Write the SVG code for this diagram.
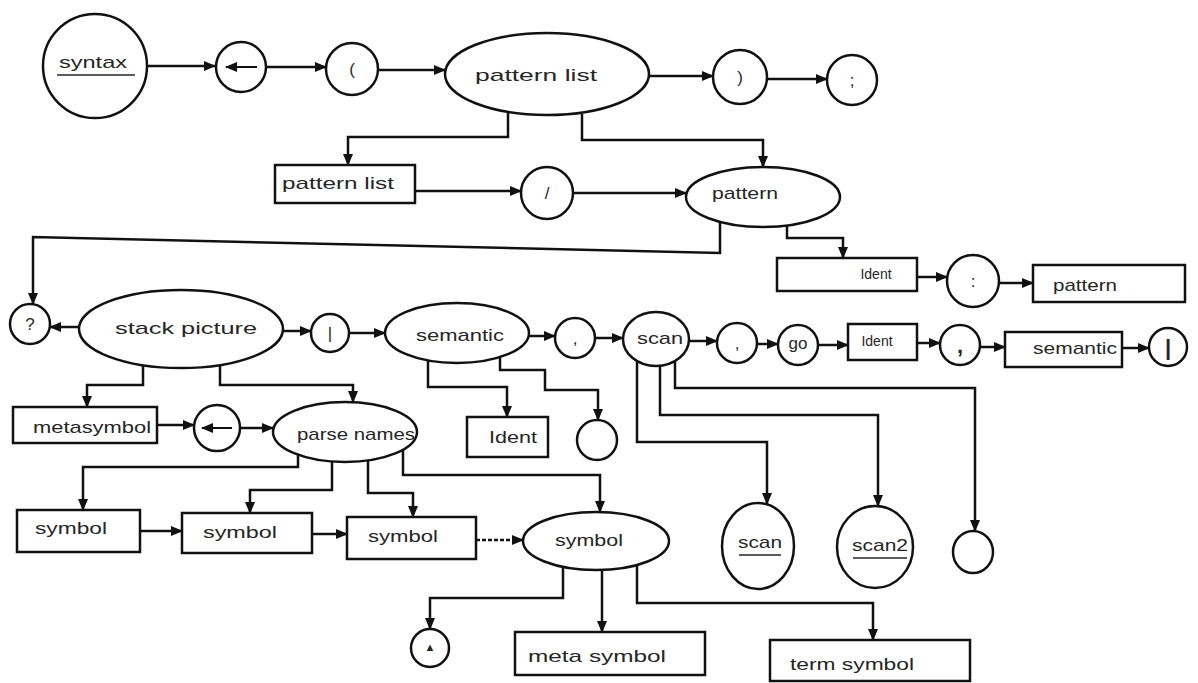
<svg xmlns="http://www.w3.org/2000/svg" width="1198" height="683" viewBox="0 0 1198 683">
<defs>
<style>
.n{fill:#fff;stroke:#111;stroke-width:2.5}
.t{font-family:"Liberation Sans",Arial,sans-serif;font-size:17px;fill:#262626;text-anchor:middle;dominant-baseline:central}
.s{font-size:14px}
.b{font-size:22px;font-weight:bold}
.c{fill:none;stroke:#111;stroke-width:2.5}
.d{stroke-dasharray:4 2}
.u{stroke:#262626;stroke-width:1.6}
</style>
<marker id="a" markerUnits="userSpaceOnUse" markerWidth="12" markerHeight="10" refX="11" refY="5" orient="auto">
<path d="M0,0 L12,5 L0,10 Z" fill="#111"/>
</marker>
</defs>
<rect width="1198" height="683" fill="#fff"/>

<g id="connectors">
<path class="c" marker-end="url(#a)" d="M147,66 H215"/>
<path class="c" marker-end="url(#a)" d="M266,67 H326"/>
<path class="c" marker-end="url(#a)" d="M378,70 H445"/>
<path class="c" marker-end="url(#a)" d="M649,76 H713"/>
<path class="c" marker-end="url(#a)" d="M767,79 H827"/>
<path class="c" marker-end="url(#a)" d="M508,113 V137 H348 V165"/>
<path class="c" marker-end="url(#a)" d="M582,114 V140 H763 V167"/>
<path class="c" marker-end="url(#a)" d="M415,191 H521"/>
<path class="c" marker-end="url(#a)" d="M573,193 H686"/>
<path class="c" marker-end="url(#a)" d="M720,222 V253 L33,237 V304"/>
<path class="c" marker-end="url(#a)" d="M787,225 V238 H843 V258"/>
<path class="c" marker-end="url(#a)" d="M917,277 H947"/>
<path class="c" marker-end="url(#a)" d="M999,283 H1033"/>
<path class="c" marker-end="url(#a)" d="M80,327 H50"/>
<path class="c" marker-end="url(#a)" d="M283,331 H311"/>
<path class="c" marker-end="url(#a)" d="M349,333 H385"/>
<path class="c" marker-end="url(#a)" d="M529,336 H555"/>
<path class="c" marker-end="url(#a)" d="M595,338 H623"/>
<path class="c" marker-end="url(#a)" d="M689,341 H717"/>
<path class="c" marker-end="url(#a)" d="M757,344 H778"/>
<path class="c" marker-end="url(#a)" d="M818,345 H848"/>
<path class="c" marker-end="url(#a)" d="M917,343 H940"/>
<path class="c" marker-end="url(#a)" d="M980,347 H1005"/>
<path class="c" marker-end="url(#a)" d="M1122,348 H1149"/>
<path class="c" marker-end="url(#a)" d="M143,366 V385 H87 V407"/>
<path class="c" marker-end="url(#a)" d="M220,366 V385 H353 V402"/>
<path class="c" marker-end="url(#a)" d="M157,425 H194"/>
<path class="c" marker-end="url(#a)" d="M240,428 H273"/>
<path class="c" marker-end="url(#a)" d="M428,360 V387 H507 V417"/>
<path class="c" marker-end="url(#a)" d="M500,357 V370 H545 V390 H598 V420"/>
<path class="c" marker-end="url(#a)" d="M637,361 V442 H767 V504"/>
<path class="c" marker-end="url(#a)" d="M660,366 V415 H878 V506"/>
<path class="c" marker-end="url(#a)" d="M675,361 V388 H975 V531"/>
<path class="c" marker-end="url(#a)" d="M298,455 V467 H83 V510"/>
<path class="c" marker-end="url(#a)" d="M332,462 V490 H250 V513"/>
<path class="c" marker-end="url(#a)" d="M368,460 V493 H413 V517"/>
<path class="c" marker-end="url(#a)" d="M403,450 V475 H600 V512"/>
<path class="c" marker-end="url(#a)" d="M140,531 H182"/>
<path class="c" marker-end="url(#a)" d="M312,534 H347"/>
<path class="c d" marker-end="url(#a)" d="M476,540 H523"/>
<path class="c" marker-end="url(#a)" d="M563,568 V598 H430 V629"/>
<path class="c" marker-end="url(#a)" d="M602,570 V632"/>
<path class="c" marker-end="url(#a)" d="M637,565 V603 H873 V640"/>
</g>

<g id="syntax"><circle class="n" cx="95" cy="66" r="52"/><text class="t" x="93" y="62" textLength="68" lengthAdjust="spacingAndGlyphs">syntax</text><line class="u" x1="57" y1="75" x2="135" y2="75"/></g>
<g id="assign1"><circle class="n" cx="241" cy="67" r="25"/><path class="c" marker-end="url(#a)" d="M257,67 H226" style="stroke-width:2"/></g>
<g id="lparen"><circle class="n" cx="352" cy="69" r="26"/><text class="t" x="352" y="69">(</text></g>
<g id="patternlist1"><ellipse class="n" cx="547" cy="74" rx="102" ry="41"/><text class="t" x="536" y="75" textLength="122" lengthAdjust="spacingAndGlyphs">pattern  list</text></g>
<g id="rparen"><circle class="n" cx="740" cy="77" r="27"/><text class="t" x="740" y="77">)</text></g>
<g id="semi"><circle class="n" cx="852" cy="80" r="25"/><text class="t" x="852" y="80">;</text></g>

<g id="patternlist2"><rect class="n" x="275" y="165" width="140" height="38"/><text class="t" x="338" y="183" textLength="112" lengthAdjust="spacingAndGlyphs">pattern  list</text></g>
<g id="slash"><circle class="n" cx="547" cy="193" r="26"/><text class="t" x="547" y="193">/</text></g>
<g id="pattern1"><ellipse class="n" cx="763" cy="197" rx="77" ry="30"/><text class="t" x="745" y="193" textLength="66" lengthAdjust="spacingAndGlyphs">pattern</text></g>
<g id="ident1"><rect class="n" x="777" y="258" width="140" height="33"/><text class="t s" x="876" y="274">Ident</text></g>
<g id="colon"><circle class="n" cx="973" cy="281" r="26"/><text class="t" x="973" y="281">:</text></g>
<g id="pattern2"><rect class="n" x="1033" y="265" width="152" height="37"/><text class="t" x="1085" y="285" textLength="64" lengthAdjust="spacingAndGlyphs">pattern</text></g>

<g id="query"><circle class="n" cx="30" cy="324" r="20"/><text class="t" x="30" y="324">?</text></g>
<g id="stackpicture"><ellipse class="n" cx="181" cy="329" rx="102" ry="39"/><text class="t" x="186" y="328" textLength="142" lengthAdjust="spacingAndGlyphs">stack  picture</text></g>
<g id="bar1"><circle class="n" cx="330" cy="333" r="19"/><text class="t" x="330" y="333">|</text></g>
<g id="semantic1"><ellipse class="n" cx="457" cy="333" rx="72" ry="30"/><text class="t" x="460" y="335" textLength="88" lengthAdjust="spacingAndGlyphs">semantic</text></g>
<g id="comma1"><circle class="n" cx="575" cy="338" r="20"/><text class="t" x="575" y="338">,</text></g>
<g id="scan1"><ellipse class="n" cx="656" cy="339" rx="33" ry="27"/><text class="t" x="660" y="338" textLength="46" lengthAdjust="spacingAndGlyphs">scan</text></g>
<g id="comma2"><circle class="n" cx="737" cy="343" r="20"/><text class="t" x="737" y="343">,</text></g>
<g id="go"><circle class="n" cx="798" cy="345" r="20"/><text class="t" x="798" y="343">go</text></g>
<g id="ident2"><rect class="n" x="848" y="324" width="69" height="36"/><text class="t s" x="877" y="341">Ident</text></g>
<g id="comma3"><circle class="n" cx="960" cy="345" r="20"/><text class="t b" x="960" y="345">,</text></g>
<g id="semantic2"><rect class="n" x="1005" y="332" width="117" height="35"/><text class="t" x="1075" y="348" textLength="84" lengthAdjust="spacingAndGlyphs">semantic</text></g>
<g id="bar2"><circle class="n" cx="1168" cy="347" r="19"/><text class="t b" x="1168" y="347">|</text></g>

<g id="metasymbol1"><rect class="n" x="13" y="407" width="144" height="36"/><text class="t" x="92" y="427" textLength="118" lengthAdjust="spacingAndGlyphs">metasymbol</text></g>
<g id="assign2"><circle class="n" cx="217" cy="428" r="23"/><path class="c" marker-end="url(#a)" d="M232,428 H202" style="stroke-width:2"/></g>
<g id="parsenames"><ellipse class="n" cx="345" cy="432" rx="72" ry="30"/><text class="t" x="356" y="434" textLength="118" lengthAdjust="spacingAndGlyphs">parse names</text></g>
<g id="ident3"><rect class="n" x="467" y="417" width="81" height="40"/><text class="t" x="513" y="437" textLength="48" lengthAdjust="spacingAndGlyphs">Ident</text></g>
<g id="empty1"><circle class="n" cx="597" cy="440" r="20"/></g>

<g id="symbol1"><rect class="n" x="17" y="510" width="123" height="42"/><text class="t" x="71" y="528" textLength="72" lengthAdjust="spacingAndGlyphs">symbol</text></g>
<g id="symbol2"><rect class="n" x="182" y="513" width="130" height="40"/><text class="t" x="240" y="532" textLength="74" lengthAdjust="spacingAndGlyphs">symbol</text></g>
<g id="symbol3"><rect class="n" x="347" y="517" width="129" height="42"/><text class="t" x="403" y="536" textLength="70" lengthAdjust="spacingAndGlyphs">symbol</text></g>
<g id="symbol4"><ellipse class="n" cx="596" cy="541" rx="73" ry="29"/><text class="t" x="589" y="540" textLength="68" lengthAdjust="spacingAndGlyphs">symbol</text></g>
<g id="scannode"><ellipse class="n" cx="758" cy="546" rx="36" ry="43"/><text class="t" x="760" y="542" textLength="44" lengthAdjust="spacingAndGlyphs">scan</text><line class="u" x1="739" y1="555" x2="781" y2="555"/></g>
<g id="scan2node"><ellipse class="n" cx="875" cy="547" rx="38" ry="41"/><text class="t" x="880" y="545" textLength="56" lengthAdjust="spacingAndGlyphs">scan2</text><line class="u" x1="853" y1="558" x2="907" y2="558"/></g>
<g id="empty2"><ellipse class="n" cx="973" cy="552" rx="20" ry="21"/></g>

<g id="delta"><circle class="n" cx="430" cy="648" r="19"/><text class="t" x="430" y="647" style="font-size:11px">▲</text></g>
<g id="metasymbol2"><rect class="n" x="515" y="632" width="190" height="43"/><text class="t" x="597" y="656" textLength="138" lengthAdjust="spacingAndGlyphs">meta  symbol</text></g>
<g id="termsymbol"><rect class="n" x="770" y="640" width="200" height="41"/><text class="t" x="852" y="664" textLength="124" lengthAdjust="spacingAndGlyphs">term  symbol</text></g>
</svg>
